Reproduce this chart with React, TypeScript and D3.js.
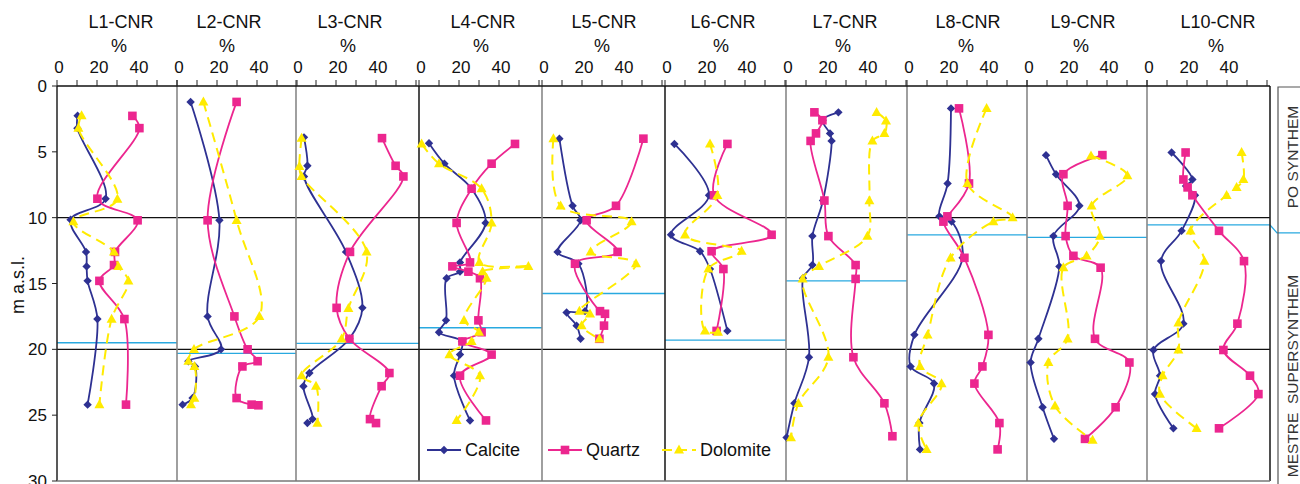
import React from "react";
import * as d3 from "d3";

type P = [number, number]; // [percent, depth m]

const panelNames = ["L1-CNR","L2-CNR","L3-CNR","L4-CNR","L5-CNR","L6-CNR","L7-CNR","L8-CNR","L9-CNR","L10-CNR"];
const xTickLabels = [0, 20, 40];
const xTicks = [0, 10, 20, 30, 40, 50, 60];
const yTicks = [0, 5, 10, 15, 20, 25, 30];
const refLines = [10, 20];
const boundaryDepths = [19.5, 20.3, 19.55, 18.36, 15.76, 19.3, 14.8, 11.3, 11.5, 10.55];
const boundaryRightColumn = 11.15;
const seriesNames = ["Calcite", "Quartz", "Dolomite"];
const unitLabels = ["PO SYNTHEM", "MESTRE  SUPERSYNTHEM"];

const L1Calcite: P[] = [[10.3,2.25],[10.2,3.2],[24.3,8.56],[6.8,10.15],[14.5,12.6],[14.8,13.7],[15.3,14.8],[20.2,17.7],[15.3,24.2]];
const L1Quartz: P[] = [[37.7,2.27],[41.2,3.2],[20.2,8.56],[40.3,10.2],[29,12.6],[28.5,13.6],[21.2,14.8],[33.7,17.7],[34.5,24.2]];
const L1Dolomite: P[] = [[12.3,2.25],[10.7,3.2],[30.2,8.6],[8.2,10.3],[28.5,12.6],[30.7,13.7],[35.7,14.8],[27.3,17.7],[21.2,24.2]];

const L2Calcite: P[] = [[6.8,1.21],[21.2,10.2],[15.3,17.5],[22,20.0],[5.7,20.9],[9,21.3],[7.8,23.7],[2.8,24.2]];
const L2Quartz: P[] = [[29.8,1.21],[15.3,10.2],[28.7,17.5],[35.3,20.0],[40.3,20.9],[32.7,21.3],[29.8,23.7],[37.3,24.2],[40.7,24.25]];
const L2Dolomite: P[] = [[13.2,1.21],[29.8,10.2],[41.2,17.5],[8.5,20.0],[5.7,20.9],[8.7,21.3],[8.7,23.7],[7,24.2]];

const L3Calcite: P[] = [[4,3.9],[5.7,6.06],[4,6.87],[25,12.6],[33.2,16.85],[26.7,19.2],[6.7,21.8],[3.7,22.8],[8.3,25.3],[5.7,25.6]];
const L3Quartz: P[] = [[43,3.96],[49.8,6.06],[53.7,6.87],[27,12.6],[20.3,16.85],[26.7,19.2],[46.7,21.8],[42.8,22.8],[37,25.3],[40,25.6]];
const L3Dolomite: P[] = [[2.8,3.96],[1.7,6.1],[2.8,6.87],[35.3,12.6],[26.2,16.9],[22.8,19.2],[2.8,22.0],[10,22.8],[10.7,25.6]];

const L4Calcite: P[] = [[5,4.35],[12.7,5.9],[26.3,7.8],[33.3,10.4],[20.5,13.4],[20.5,14.1],[13.8,14.6],[13.5,17.8],[10,18.7],[21.5,19.4],[20.5,20.4],[17.5,22],[25.5,25.4]];
const L4Quartz: P[] = [[48,4.4],[36.3,5.9],[26.3,7.8],[18.8,10.4],[25.5,13.4],[16.7,13.7],[24.7,14.1],[30.5,14.6],[29.7,17.8],[31.3,18.7],[21.7,19.4],[36.3,20.4],[20.5,22],[33.5,25.4]];
const L4Dolomite: P[] = [[1.3,4.4],[10,5.9],[31.3,7.8],[36.3,10.4],[30.2,13.4],[54.7,13.7],[31.8,14.1],[33.8,14.6],[22.5,17.8],[30,18.7],[26.3,19.4],[15.2,20.4],[30.5,22],[18.8,25.4]];

const L5Calcite: P[] = [[8.7,4.0],[15.3,9.1],[19.3,10.2],[7.8,12.6],[18.2,13.5],[21.5,17.1],[12.3,17.2],[17.3,18.2],[19.3,19.2]];
const L5Quartz: P[] = [[50.7,4.0],[37,9.1],[22.3,10.2],[37.8,12.6],[16.5,13.5],[29,17.1],[31.5,17.3],[31,18.2],[28.7,19.2]];
const L5Dolomite: P[] = [[5.7,4.0],[9.3,9.1],[44.8,10.3],[24.3,12.6],[47,13.5],[18.7,17.1],[24,17.3],[19.8,18.2],[28.7,19.2]];

const L6Calcite: P[] = [[4.7,4.4],[22,8.3],[3,11.3],[17.5,12.55],[22.5,13.9],[31.2,18.6]];
const L6Quartz: P[] = [[31.2,4.4],[24.5,8.3],[53.3,11.3],[23.3,12.55],[29.2,13.9],[25.8,18.6]];
const L6Dolomite: P[] = [[22.5,4.4],[26.2,8.3],[10,11.3],[38.3,12.55],[21.7,13.9],[20,18.6],[26.5,18.7]];

const L7Calcite: P[] = [[26.2,2.0],[18.3,2.6],[22,3.6],[22.8,4.17],[18.5,8.7],[13.2,11.4],[13.2,13.6],[8.5,14.6],[11.5,20.6],[4.2,24.1],[0.3,26.7]];
const L7Quartz: P[] = [[14.2,2.0],[18.2,2.6],[15,3.6],[12.3,4.17],[19.2,8.7],[21.2,11.4],[34.8,13.6],[34.8,14.65],[33.7,20.6],[49.2,24.1],[53.2,26.6]];
const L7Dolomite: P[] = [[45.3,2.0],[50,2.65],[49.2,3.6],[43.2,4.17],[41.7,8.7],[40.7,11.4],[16.5,13.7],[8.3,14.65],[21.2,20.6],[6.2,24.1],[2.5,26.7]];

const L8Calcite: P[] = [[22,1.7],[20.3,7.4],[16.2,9.9],[22.3,10.3],[27.8,13.05],[3.7,18.9],[1.8,21.3],[13.5,22.6],[6.2,25.6],[6.5,27.6]];
const L8Quartz: P[] = [[26,1.7],[31,7.4],[20.2,9.9],[18.2,10.3],[28.7,13.05],[40.7,18.9],[37.7,21.3],[33.7,22.6],[46.2,25.6],[45.3,27.6]];
const L8Dolomite: P[] = [[39.8,1.7],[30.2,7.4],[52.8,10.0],[43.2,10.3],[21.8,13.05],[10.3,18.9],[6.5,21.3],[17.3,22.6],[5.7,25.6],[9.8,27.6]];

const L9Calcite: P[] = [[9.5,5.25],[14.5,6.7],[26.2,9.1],[13.2,11.4],[16.2,13.7],[5.7,19.2],[1.8,21],[7.8,24.4],[13.5,26.8]];
const L9Quartz: P[] = [[37.7,5.25],[18.2,6.7],[20.3,9.1],[19.3,11.4],[23.2,12.9],[36.8,13.8],[34,19.2],[51.2,21],[44.3,24.4],[29,26.8]];
const L9Dolomite: P[] = [[32,5.3],[50.2,6.8],[32.3,9.1],[36.5,11.4],[29.8,12.9],[18.2,13.8],[20.3,19.2],[10.7,21],[14,24.3],[32.8,26.9]];

const L10Calcite: P[] = [[12.3,5.05],[22.7,7.1],[19.5,7.6],[24,8.3],[17.3,11],[7,13.3],[18.2,18.05],[3.2,20.05],[6.5,22],[4,23.4],[13.2,26]];
const L10Quartz: P[] = [[19.3,5.05],[18.2,7.1],[20.3,7.7],[22.7,8.3],[36,11],[48.5,13.3],[45.2,18.05],[38.2,20.05],[51.5,22],[55.7,23.4],[36,26]];
const L10Dolomite: P[] = [[47.3,5.05],[48.2,7.1],[44.8,7.7],[39.8,8.3],[21.8,11],[28.7,13.3],[15.7,18],[15.7,20.05],[7.8,22],[6.5,23.4],[24.8,26]];

const panelData: P[][][] = [
  [L1Calcite, L1Quartz, L1Dolomite],
  [L2Calcite, L2Quartz, L2Dolomite],
  [L3Calcite, L3Quartz, L3Dolomite],
  [L4Calcite, L4Quartz, L4Dolomite],
  [L5Calcite, L5Quartz, L5Dolomite],
  [L6Calcite, L6Quartz, L6Dolomite],
  [L7Calcite, L7Quartz, L7Dolomite],
  [L8Calcite, L8Quartz, L8Dolomite],
  [L9Calcite, L9Quartz, L9Dolomite],
  [L10Calcite, L10Quartz, L10Dolomite],
];

// layout
const W = 1300, H = 484;
const edges = [57, 177, 296, 419, 542, 665, 786, 907, 1027, 1147, 1270];
const titleCenters = [121, 229, 350, 483, 604, 723, 845, 968, 1083, 1218];
const sepColors = ["#222", "#888", "#888", "#222", "#888", "#222", "#888", "#888", "#888", "#888", "#222"];
const colors = ["#2E3192", "#EC268F", "#FFEB00"];
const FONT = "Liberation Sans, Arial, sans-serif";

const y = d3.scaleLinear().domain([0, 30]).range([86, 481]);

function marker(kind: number, cx: number, cy: number, key: string) {
  const c = colors[kind];
  if (kind === 0) {
    const r = 4.2;
    return <path key={key} d={`M${cx},${cy - r}L${cx + r},${cy}L${cx},${cy + r}L${cx - r},${cy}Z`} fill={c} />;
  }
  if (kind === 1) {
    const r = 4.3;
    return <rect key={key} x={cx - r} y={cy - r} width={2 * r} height={2 * r} fill={c} />;
  }
  const h = 9, w = 10;
  return <path key={key} d={`M${cx},${cy - h * 0.6}L${cx + w / 2},${cy + h * 0.4}L${cx - w / 2},${cy + h * 0.4}Z`} fill={c} />;
}

export default function App() {
  const line = d3.line<[number, number]>().curve(d3.curveCatmullRom.alpha(0.5));
  const panels = panelNames.map((name, i) => {
    const x0 = edges[i];
    const x = d3.scaleLinear().domain([0, 60]).range([x0, x0 + 120]);
    return { name, i, x };
  });

  return (
    <svg width={W} height={H} style={{ position: "absolute", left: 0, top: 0, background: "#fff" }} fontFamily={FONT}>
      {/* y axis label */}
      <text transform={`translate(24,285) rotate(-90)`} textAnchor="middle" fontSize={18} fill="#111">m  a.s.l.</text>
      {/* y ticks */}
      {yTicks.map((t) => (
        <g key={"yt" + t}>
          <line x1={52} x2={57} y1={y(t)} y2={y(t)} stroke="#222" strokeWidth={1} />
          <text x={47} y={y(t) + 6} textAnchor="end" fontSize={17} fill="#111">{t}</text>
        </g>
      ))}
      {/* blue boundary lines */}
      {panels.map((p) => (
        <line key={"bl" + p.i} x1={edges[p.i]} x2={edges[p.i + 1]} y1={y(boundaryDepths[p.i])} y2={y(boundaryDepths[p.i])} stroke="#29A9E0" strokeWidth={1.3} />
      ))}
      <path d={`M${edges[10]},${y(boundaryDepths[9])}L${edges[10] + 7},${y(boundaryRightColumn)}L1300,${y(boundaryRightColumn)}`} fill="none" stroke="#29A9E0" strokeWidth={1.3} />
      {/* reference lines */}
      {refLines.map((r) => (
        <line key={"rl" + r} x1={57} x2={1270} y1={y(r)} y2={y(r)} stroke="#111" strokeWidth={1.3} />
      ))}
      {/* separators */}
      {edges.map((e, i) => (
        <line key={"sep" + i} x1={e} x2={e} y1={86} y2={481} stroke={sepColors[i]} strokeWidth={i === 0 ? 1.5 : 1.6} />
      ))}
      <line x1={57} x2={1270} y1={481} y2={481} stroke="#777" strokeWidth={1.5} />
      <line x1={57} x2={1270} y1={86} y2={86} stroke="#111" strokeWidth={1.3} />
      {/* right column */}
      <path d={`M1278,${H}L1278,87L1300,87`} fill="none" stroke="#555" strokeWidth={1.2} />
      <text transform={`translate(1297.5,157) rotate(-90)`} textAnchor="middle" fontSize={15.5} fill="#333">{unitLabels[0]}</text>
      <text transform={`translate(1297.5,376) rotate(-90)`} textAnchor="middle" fontSize={15.5} fill="#333" style={{ whiteSpace: "pre" }}>{unitLabels[1]}</text>

      {panels.map((p) => (
        <g key={"p" + p.i}>
          <text x={titleCenters[p.i]} y={28} textAnchor="middle" fontSize={18} fill="#111">{p.name}</text>
          <text x={titleCenters[p.i] - 2} y={52} textAnchor="middle" fontSize={18} fill="#111">%</text>
          {xTicks.map((t) => (
            <line key={"xt" + t} x1={p.x(t)} x2={p.x(t)} y1={80} y2={86} stroke="#222" strokeWidth={1} />
          ))}
          {xTickLabels.map((t) => (
            <text key={"xl" + t} x={p.x(t) + 2} y={73} textAnchor="middle" fontSize={17} fill="#111">{t}</text>
          ))}
          {panelData[p.i].map((series, k) => {
            const pts = series.map((d) => [p.x(d[0]), y(d[1])] as [number, number]);
            return (
              <g key={"s" + k}>
                <path d={line(pts) || ""} fill="none" stroke={colors[k]} strokeWidth={k === 2 ? 2 : 1.8}
                  strokeDasharray={k === 2 ? "10,6" : undefined} />
                {pts.map((q, j) => marker(k, q[0], q[1], `m${k}-${j}`))}
              </g>
            );
          })}
        </g>
      ))}

      {/* legend */}
      {seriesNames.map((s, k) => {
        const lx = [427, 548, 662][k];
        return (
          <g key={"lg" + k}>
            <line x1={lx} x2={lx + 34} y1={450} y2={450} stroke={colors[k]} strokeWidth={2} strokeDasharray={k === 2 ? "10,5" : undefined} />
            {marker(k, lx + 17, 450, "lm" + k)}
            <text x={lx + 38} y={456} fontSize={18} fill="#111">{s}</text>
          </g>
        );
      })}
    </svg>
  );
}
